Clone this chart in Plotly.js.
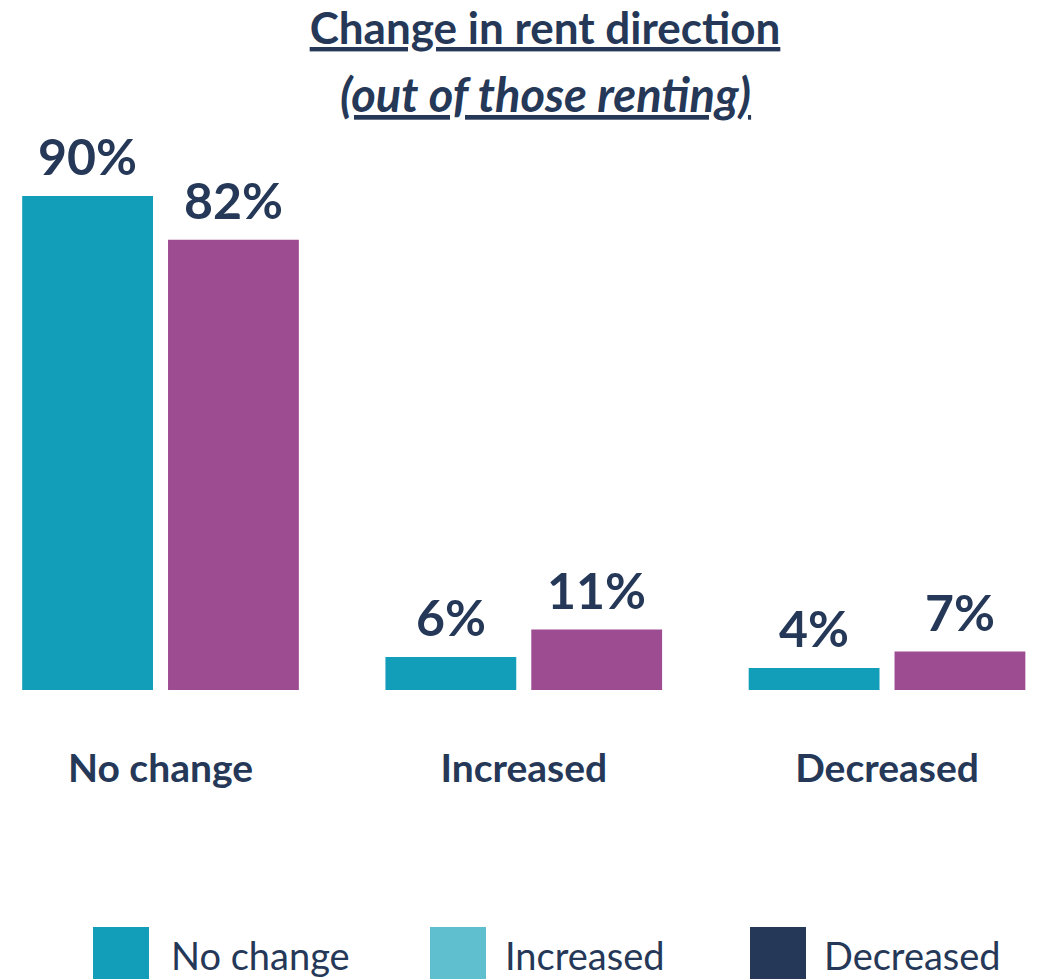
<!DOCTYPE html>
<html>
<head>
<meta charset="utf-8">
<script src="https://cdn.plot.ly/plotly-3.0.1.min.js"></script>
<style>html,body{margin:0;padding:0;background:#fff;}#chart{width:1041px;height:979px;}</style>
</head>
<body>
<div id="chart"></div>
<script>
// ---- data ----
const categories = ["No change", "Increased", "Decreased"];
const seriesA = [90, 6, 4];
const seriesB = [82, 11, 7];
const seriesNames = ["Group A", "Group B"];
const legendLabels = ["No change", "Increased", "Decreased"];
const legendColors = ["#129DB8", "#5FBFCF", "#253858"];
const titleLine1 = "Change in rent direction";
const titleLine2 = "(out of those renting)";

// ---- styling ----
const W = 1041, H = 979;
const M = {l: 0, r: 0, t: 130, b: 289};
const navy = "#253858";
const colors = ["#129DB8", "#9E4C91"];
const FONT = "Lato, 'Open Sans', sans-serif";
const plotH = H - M.t - M.b;
const py = p => (H - M.b - p) / plotH;   // pixel y -> paper y
const px = p => p / W;                   // pixel x -> paper x

const traces = [seriesA, seriesB].map((vals, i) => ({
  type: "bar",
  x: categories,
  y: vals,
  name: seriesNames[i],
  marker: {color: colors[i]},
  hoverinfo: "x+y",
  showlegend: false
}));

const annotations = [];
[seriesA, seriesB].forEach((vals, i) => {
  vals.forEach((v, j) => {
    annotations.push({
      x: categories[j], y: v, xref: "x", yref: "y",
      text: "<b>" + v + "%</b>", showarrow: false,
      xanchor: "center", yanchor: "bottom",
      xshift: i === 0 ? -73 : 73, yshift: 8,
      font: {family: FONT, size: 50, color: navy}
    });
  });
});
annotations.push({
  xref: "paper", yref: "paper", x: px(545), y: py(124), yanchor: "bottom",
  text: "<b><i><u>" + titleLine2 + "</u></i></b>", showarrow: false,
  font: {family: FONT, size: 47, color: navy}
});

const shapes = [];
const legSq = [93, 430, 750];
const legTx = [169, 503, 822];
legendLabels.forEach((lab, k) => {
  shapes.push({
    type: "rect", xref: "paper", yref: "paper",
    x0: px(legSq[k]), x1: px(legSq[k] + 56), y0: py(990), y1: py(927),
    fillcolor: legendColors[k], line: {width: 0}
  });
  annotations.push({
    xref: "paper", yref: "paper", x: px(legTx[k]), y: py(955),
    xanchor: "left", yanchor: "middle", showarrow: false,
    text: lab, font: {family: FONT, size: 38, color: navy}
  });
});

const layout = {
  width: W, height: H,
  margin: M,
  paper_bgcolor: "#fff", plot_bgcolor: "#fff",
  barmode: "group", bargap: 0.197, bargroupgap: 0.103,
  title: {
    text: "<b><u>" + titleLine1 + "</u></b>",
    x: px(545), xanchor: "center", y: 1 - 44 / H, yanchor: "bottom",
    yref: "container", font: {family: FONT, size: 44, color: navy}
  },
  xaxis: {
    range: [-0.4419, 2.4239], showgrid: false, zeroline: false, showline: false,
    ticks: "", tickfont: {family: FONT, size: 39, color: navy},
    ticklabelstandoff: 52, fixedrange: true,
    tickvals: categories, ticktext: categories.map(c => "<b>" + c + "</b>")
  },
  yaxis: {
    range: [0, 102], visible: false, fixedrange: true
  },
  showlegend: false,
  shapes: shapes,
  annotations: annotations
};

Plotly.newPlot("chart", traces, layout, {displayModeBar: false, staticPlot: true});
</script>
</body>
</html>
